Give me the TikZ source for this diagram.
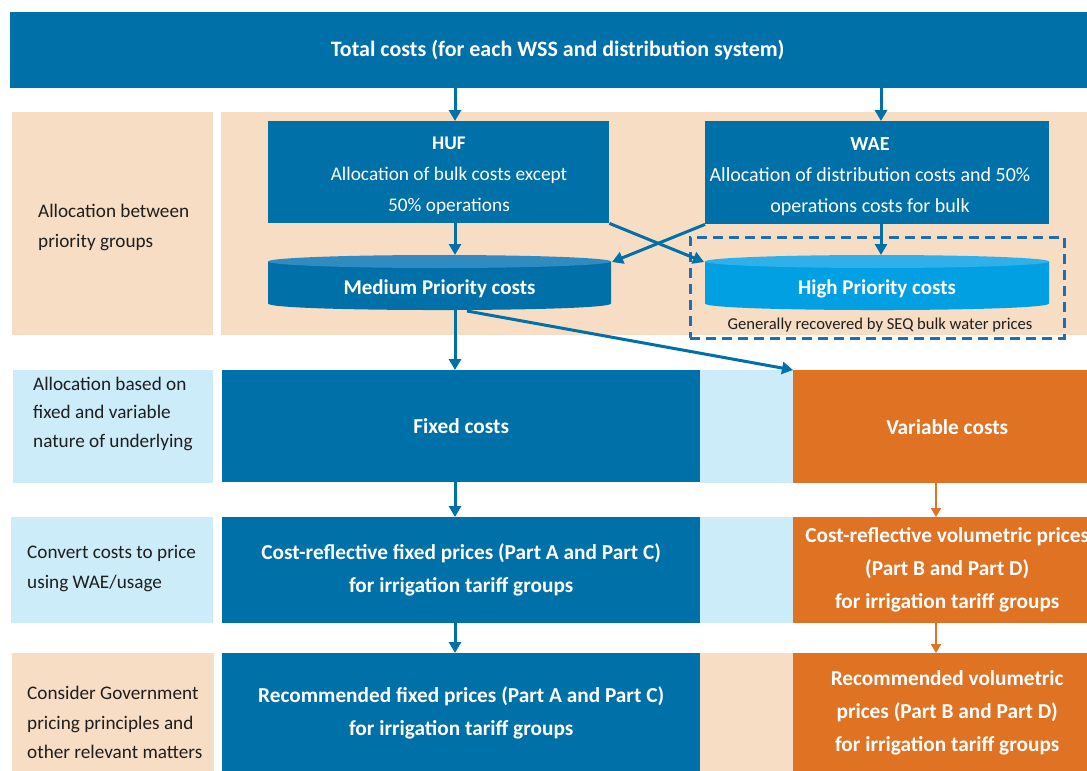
\documentclass[tikz,border=0pt]{standalone}
\usepackage{fontspec}
\setmainfont{Carlito}
\usepackage{tikz}
\usetikzlibrary{arrows.meta,positioning}

\definecolor{wssblue}{RGB}{0,112,168}
\definecolor{cyltop}{RGB}{48,140,192}
\definecolor{highblue}{RGB}{0,160,226}
\definecolor{hightop}{RGB}{48,176,232}
\definecolor{wssorange}{RGB}{224,114,36}
\definecolor{beige}{RGB}{248,221,197}
\definecolor{paleblue}{RGB}{204,236,250}
\definecolor{dashblue}{RGB}{30,110,176}
\definecolor{labelgray}{RGB}{30,30,30}

\tikzset{
  band/.style={inner sep=0pt, anchor=north west},
  box/.style={band, fill=wssblue, text=white, align=center},
  vbox/.style={box, fill=wssorange},
  boxfont/.style={font=\bfseries\fontsize{21.3}{33}\selectfont},
  labeltext/.style={anchor=west, align=left, text=labelgray, inner sep=0pt},
  flow/.style={-{Triangle[length=11pt,width=12pt]}, line width=3pt, wssblue},
  vflow/.style={-{Triangle[length=9pt,width=10pt]}, line width=2.2pt, wssorange},
}

\begin{document}
\begin{tikzpicture}[x=1pt, y=-1pt]
\useasboundingbox (0,0) rectangle (1087,771);
\fill[white] (0,0) rectangle (1087,771);
% columns for the vertical connectors
\coordinate (colA) at (455,0);
\coordinate (colB) at (881,0);
\coordinate (colC) at (936,0);

% TOP: total costs
\node[box, minimum width=1095pt, minimum height=76pt, font=\bfseries\fontsize{22}{26}\selectfont] (total) at (10,12) {Total costs (for each WSS and distribution system)};

% ROW 1: allocation between priority groups
\node[band, fill=beige, minimum width=201pt, minimum height=223pt] (lab1) at (12,112) {};
\node[band, fill=beige, minimum width=866pt, minimum height=223pt] (band1) at (221,112) {};
\node[labeltext, font=\fontsize{19.2}{29.5}\selectfont] (lab1text) at (38,227.5) {Allocation between\\priority groups};
\node[box, minimum width=341pt, minimum height=102pt] (huf) at (268,121) {};
\node[text=white, align=center, font=\fontsize{19.3}{31}\selectfont] (huftext) at (449,176) {\textbf{HUF}\\Allocation of bulk costs except\\50\% operations};
\node[box, minimum width=344pt, minimum height=103pt] (wae) at (705,121) {};
\node[text=white, align=center, font=\fontsize{20}{31}\selectfont] (waetext) at (870,177) {\textbf{WAE}\\Allocation of distribution costs and 50\%\\operations costs for bulk};
% medium priority cylinder
\fill[wssblue] (268,261.5) -- (268,303.5) .. controls (268,312.2) and (611,312.2) .. (611,303.5) -- (611,261.5) -- cycle;
\fill[cyltop] (439.5,261.5) ellipse [x radius=171.5, y radius=6.5];
\node[font=\bfseries\fontsize{21}{25}\selectfont, text=white] (medium) at (439.5,289) {Medium Priority costs};
\coordinate (medtop) at (455,255);
\coordinate (medbot) at (455,310);
\coordinate (medfork) at (467,311);
\coordinate (medright) at (612,262);
% high priority cylinder
\node[band, draw=dashblue, line width=2.5pt, dash pattern=on 10pt off 6pt, minimum width=374pt, minimum height=101pt] (hpgroup) at (689,236) {};
\fill[highblue] (705,261.5) -- (705,303.5) .. controls (705,312.2) and (1049,312.2) .. (1049,303.5) -- (1049,261.5) -- cycle;
\fill[hightop] (877,261.5) ellipse [x radius=172, y radius=6.5];
\node[font=\bfseries\fontsize{21}{25}\selectfont, text=white] (high) at (877,289) {High Priority costs};
\node[text=labelgray, font=\fontsize{16.6}{19}\selectfont] (hpnote) at (880,325) {Generally recovered by SEQ bulk water prices};
\coordinate (hightop) at (881,255);
\coordinate (highleft) at (704,262);

% ROW 2: fixed and variable
\node[band, fill=paleblue, minimum width=200pt, minimum height=113pt] (lab2) at (13,370) {};
\node[band, fill=paleblue, minimum width=93pt, minimum height=113pt] (band2) at (700,370) {};
\node[labeltext, font=\fontsize{19.2}{28.5}\selectfont] (lab2text) at (33,413.5) {Allocation based on\\fixed and variable\\nature of underlying};
\node[box, boxfont, minimum width=478pt, minimum height=112pt] (fixed) at (222,370) {Fixed costs};
\node[vbox, boxfont, minimum width=308pt, minimum height=113pt] (var) at (793,370) {Variable costs};

% ROW 3: cost-reflective prices
\node[band, fill=paleblue, minimum width=202pt, minimum height=106pt] (lab3) at (11,517) {};
\node[band, fill=paleblue, minimum width=93pt, minimum height=106pt] (band3) at (700,517) {};
\node[labeltext, font=\fontsize{19.2}{30}\selectfont] (lab3text) at (27,569) {Convert costs to price\\using WAE/usage};
\node[box, boxfont, minimum width=478pt, minimum height=106pt] (cfix) at (222,517) {Cost-reflective fixed prices (Part A and Part C)\\for irrigation tariff groups};
\node[vbox, boxfont, minimum width=308pt, minimum height=106pt] (cvol) at (793,517) {Cost-reflective volumetric prices\\(Part B and Part D)\\for irrigation tariff groups};

% ROW 4: recommended prices
\node[band, fill=beige, minimum width=202pt, minimum height=118pt] (lab4) at (12,653) {};
\node[band, fill=beige, minimum width=93pt, minimum height=118pt] (band4) at (700,653) {};
\node[labeltext, font=\fontsize{19.2}{29.5}\selectfont] (lab4text) at (27,722.5) {Consider Government\\pricing principles and\\other relevant matters};
\node[box, boxfont, minimum width=478pt, minimum height=120pt] (rfix) at (222,653) {Recommended fixed prices (Part A and Part C)\\for irrigation tariff groups};
\node[vbox, boxfont, minimum width=308pt, minimum height=120pt] (rvol) at (793,653) {Recommended volumetric\\prices (Part B and Part D)\\for irrigation tariff groups};

% connectors
\draw[flow] (colA |- total.south) -- (colA |- huf.north);
\draw[flow] (colB |- total.south) -- (colB |- wae.north);
\draw[flow] (colA |- huf.south) -- (medtop);
\draw[flow] (colB |- wae.south) -- (hightop);
\draw[flow] (huf.south east) -- (highleft);
\draw[flow] (wae.south west) -- (medright);
\draw[flow] (medbot) -- (colA |- fixed.north);
\draw[flow] (medfork) -- (var.north west);
\draw[flow] (colA |- fixed.south) -- (colA |- cfix.north);
\draw[flow] (colA |- cfix.south) -- (colA |- rfix.north);
\draw[vflow] (colC |- var.south) -- (colC |- cvol.north);
\draw[vflow] (colC |- cvol.south) -- (colC |- rvol.north);
\end{tikzpicture}
\end{document}
